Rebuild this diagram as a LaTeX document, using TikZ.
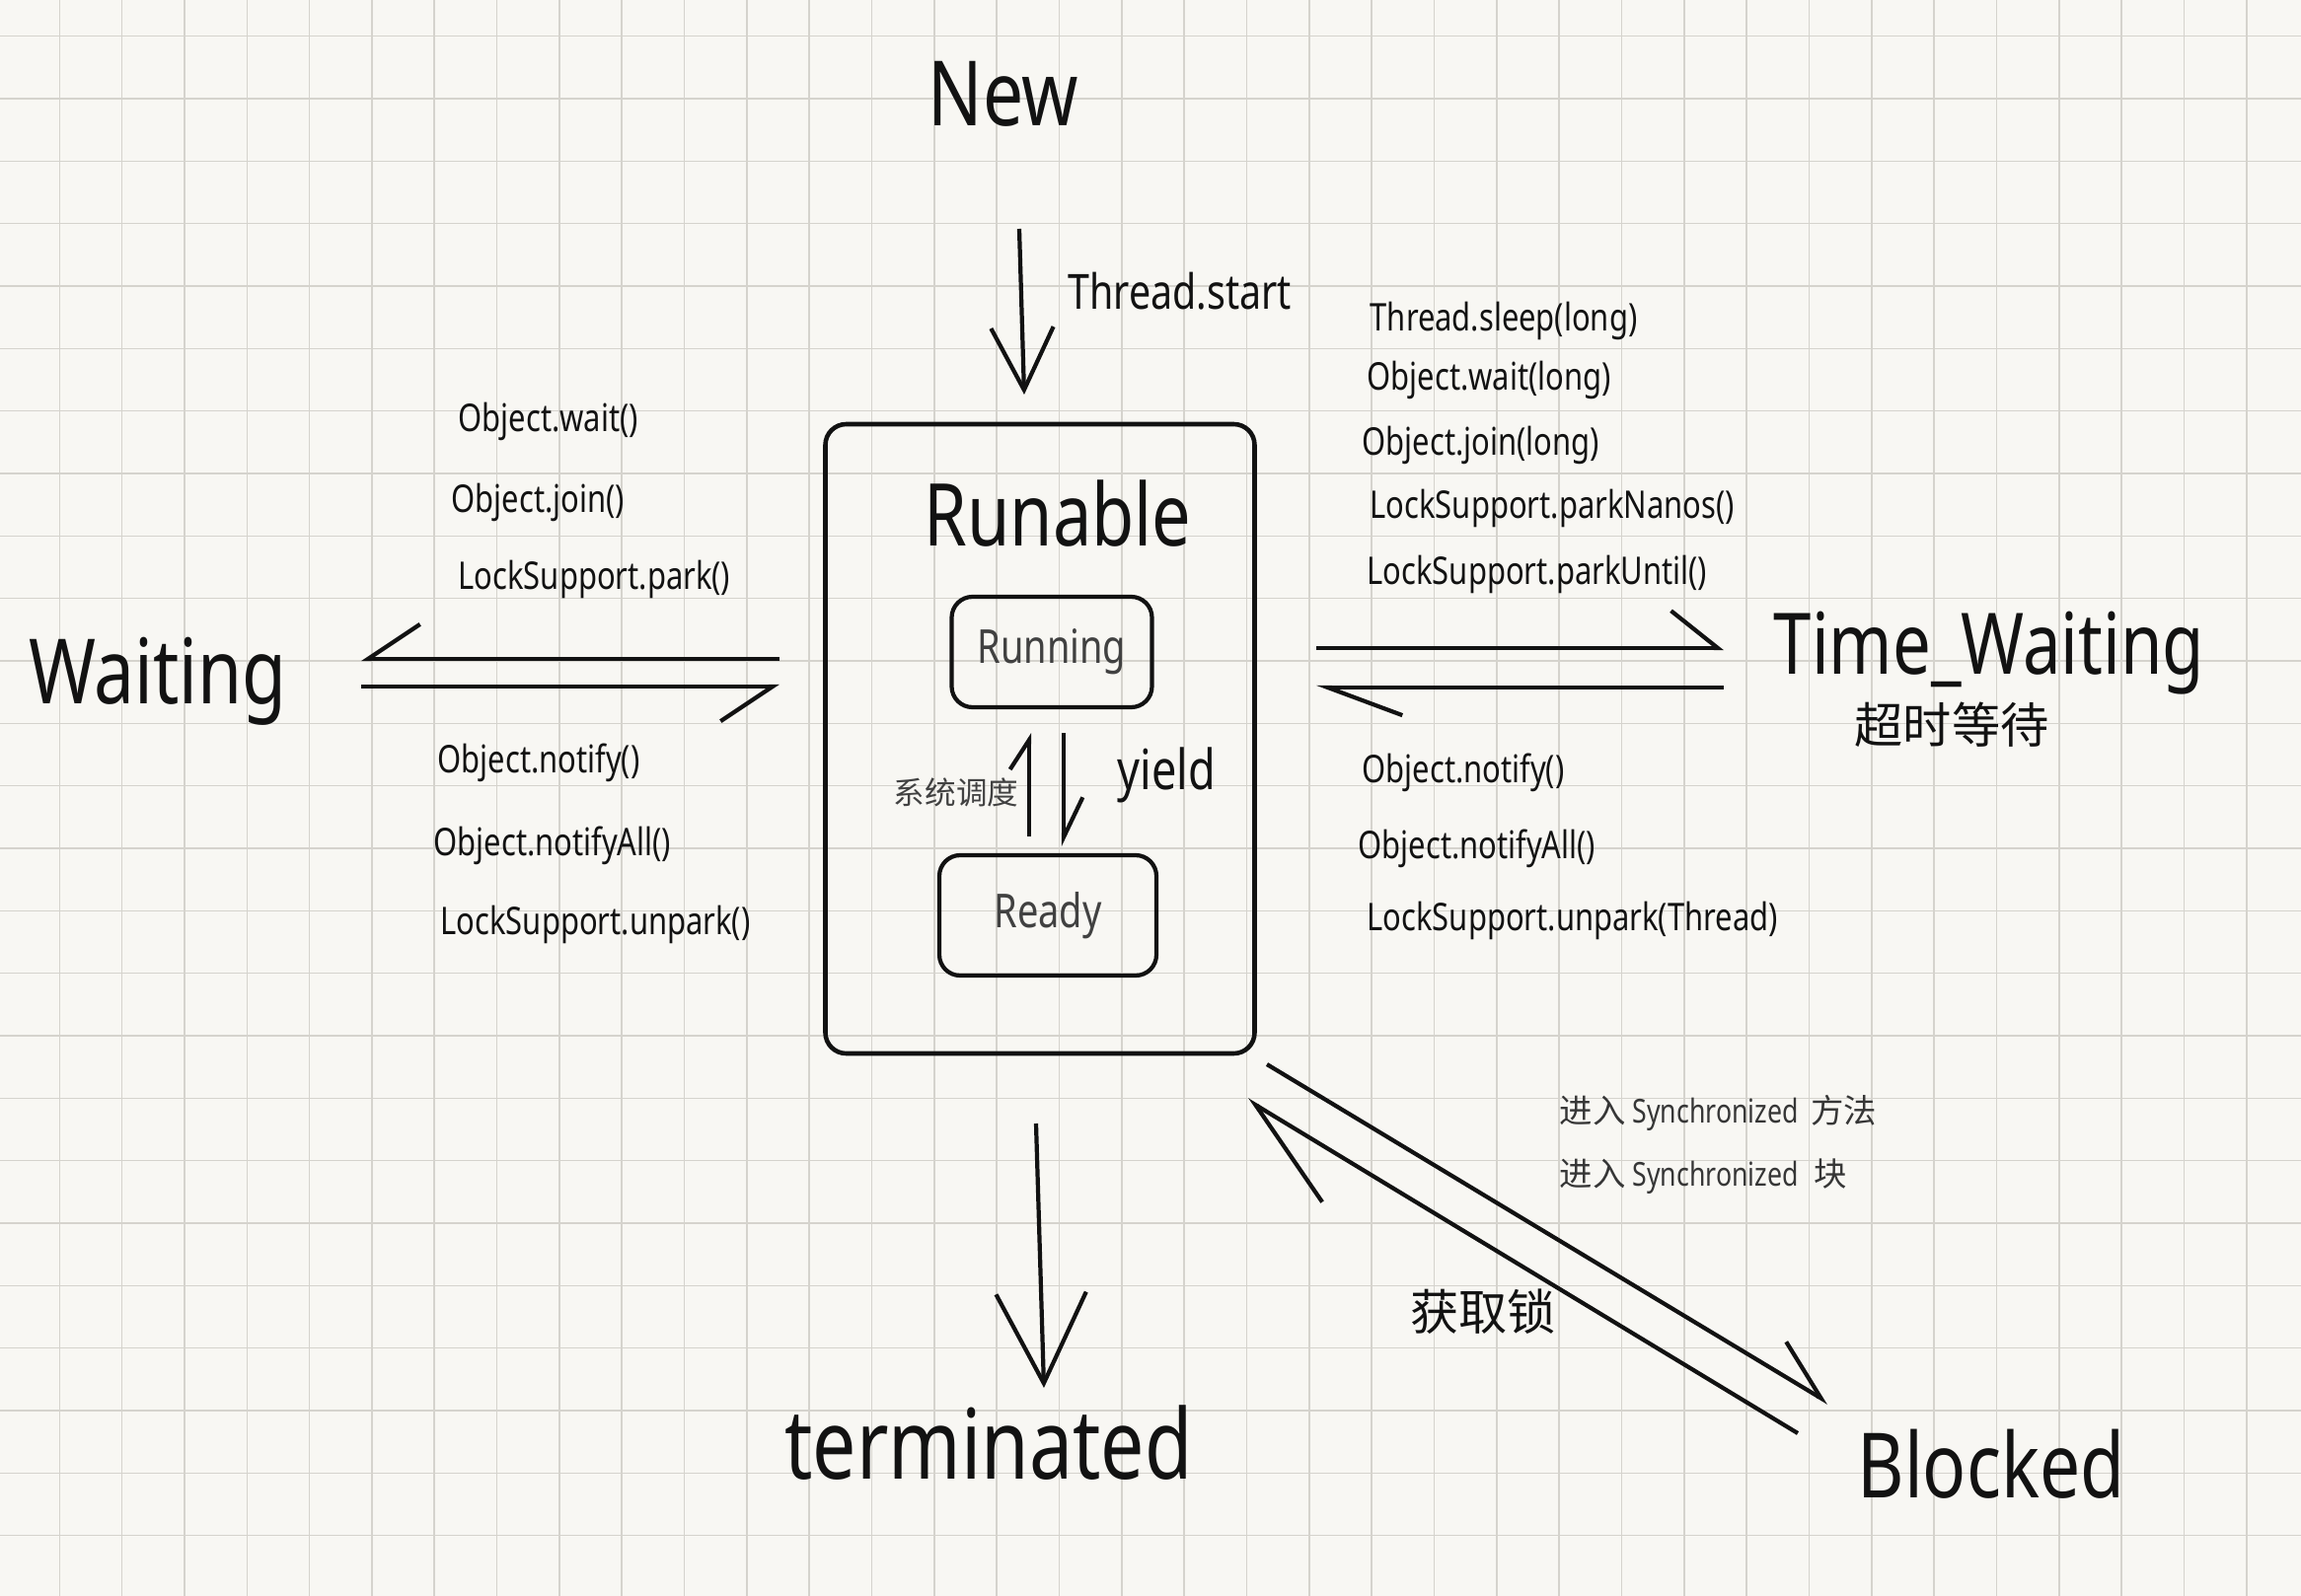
\documentclass[tikz,border=0pt]{standalone}
\usepackage{fontspec}
\setmainfont[FakeStretch=0.8]{Noto Sans}
\newfontfamily\cjk{Noto Sans CJK SC}
\usetikzlibrary{arrows.meta}
\definecolor{paper}{RGB}{248,247,243}
\definecolor{gridgray}{RGB}{213,211,205}
\definecolor{ink}{RGB}{18,18,18}
\tikzset{
  gridline/.style={gridgray,line width=0.45pt},
  statelbl/.style={font=\fontsize{26}{30}\selectfont,text=ink,inner sep=0pt,anchor=base},
  methlbl/.style={font=\fontsize{11}{14}\selectfont,text=ink,inner sep=0pt,anchor=west},
  synclbl/.style={font=\fontsize{9.5}{12}\selectfont,text=ink!85,inner sep=0pt,anchor=west},
  cjklbl/.style={font=\cjk\fontsize{14}{16}\selectfont,text=ink,inner sep=0pt},
  outerbox/.style={draw=ink,line width=1.3pt,rounded corners=6pt,
    minimum width=43.5mm,minimum height=63.8mm},
  innerbox/.style={draw=ink,line width=1.2pt,rounded corners=6pt,
    font=\fontsize{13.5}{16}\selectfont,text=ink!80},
  trans/.style={ink,line width=1.2pt,-{Straight Barb[#1]}},
  trans/.default={length=18pt,width=18pt},
  hook/.style={ink,line width=1.2pt,-{Straight Barb[harpoon,#1]}},
  hook/.default={length=15pt,width=20pt},
}
\begin{document}
\begin{tikzpicture}[x=0.1mm,y=-0.1mm]
  \fill[paper] (0,0) rectangle (2332,1618);
  \useasboundingbox (0,0) rectangle (2332,1618);
  \foreach \i in {0,...,35}
    \draw[gridline] ({60.3+63.33*\i},0) -- ({60.3+63.33*\i},1618);
  \foreach \j in {0,...,24}
    \draw[gridline] (0,{36.7+63.33*\j}) -- (2332,{36.7+63.33*\j});

  % states
  \node[statelbl] (new) at (1017,128) {New};
  \node[outerbox] (runable) at (1054,749) {};
  \node[statelbl,font=\fontsize{25}{30}\selectfont] (runtitle) at (1072,553) {Runable};
  \node[innerbox,minimum width=20.3mm,minimum height=11.2mm] (running) at (1066,661) {Running};
  \node[innerbox,minimum width=22mm,minimum height=12.2mm] (ready) at (1062,928) {Ready};
  \node[statelbl] (waiting) at (160,713) {Waiting};
  \node[statelbl,font=\fontsize{24.5}{30}\selectfont] (timewait) at (2016,683) {Time\_Waiting};
  \node[cjklbl] (timewaitcn) at (1978,735) {超时等待};
  \node[statelbl,font=\fontsize{28}{32}\selectfont] (term) at (1002,1499) {terminated};
  \node[statelbl] (blocked) at (2018,1518) {Blocked};

  % arrow ends
  \coordinate (ns) at (1033,232);  \coordinate (ne) at (1038,400);
  \coordinate (ts) at (1050,1139); \coordinate (te) at (1058,1407);
  \coordinate (ru) at (1043,848);  \coordinate (rv) at (1043,743);
  \coordinate (yu) at (1078,743);  \coordinate (yv) at (1078,858);
  \coordinate (wa) at (790,668);   \coordinate (wb) at (366,668);
  \coordinate (wc) at (366,696);   \coordinate (wd) at (790,696);
  \coordinate (ta) at (1334,657);  \coordinate (tb) at (1747,657);
  \coordinate (tc) at (1747,697);  \coordinate (td) at (1334,697);
  \coordinate (ba) at (1284,1079); \coordinate (bb) at (1853,1422);
  \coordinate (bc) at (1822,1453); \coordinate (bd) at (1264,1115);

  \draw[trans] (ns) -- (ne);
  \draw[trans={length=26pt,width=26pt}] (ts) -- (te);
  \draw[hook={length=8.5pt,width=11pt}] (ru) -- (rv);
  \draw[hook={length=11.5pt,width=11pt}] (yu) -- (yv);
  \draw[hook={swap,length=15pt,width=20pt}] (wa) -- (wb);
  \draw[hook={swap,length=15pt,width=20pt}] (wc) -- (wd);
  \draw[hook={length=13.5pt,width=21.5pt}] (ta) -- (tb);
  \draw[hook={length=21.5pt,width=16pt}] (tc) -- (td);
  \draw[hook={length=17pt,width=17.5pt}] (ba) -- (bb);
  \draw[hook={length=31pt,width=28pt}] (bc) -- (bd);

  % labels
  \node[methlbl,font=\fontsize{14}{18}\selectfont] (startlbl) at (1082,295) {Thread.start};
  \node[font=\fontsize{16}{18}\selectfont,text=ink,inner sep=0pt,anchor=base west] (yieldlbl) at (1132,800) {yield};
  \node[font=\cjk\fontsize{9}{11}\selectfont,text=ink!80,inner sep=0pt,anchor=east] (schedlbl) at (1033,803) {系统调度};

  \node[methlbl] (w1) at (464,427) {Object.wait()};
  \node[methlbl] (w2) at (457,509) {Object.join()};
  \node[methlbl] (w3) at (464,587) {LockSupport.park()};
  \node[methlbl] (w4) at (443,773) {Object.notify()};
  \node[methlbl] (w5) at (439,857) {Object.notifyAll()};
  \node[methlbl] (w6) at (446,937) {LockSupport.unpark()};

  \node[methlbl] (t1) at (1388,325) {Thread.sleep(long)};
  \node[methlbl] (t2) at (1385,385) {Object.wait(long)};
  \node[methlbl] (t3) at (1380,451) {Object.join(long)};
  \node[methlbl] (t4) at (1388,515) {LockSupport.parkNanos()};
  \node[methlbl] (t5) at (1385,582) {LockSupport.parkUntil()};
  \node[methlbl] (t6) at (1380,783) {Object.notify()};
  \node[methlbl] (t7) at (1376,860) {Object.notifyAll()};
  \node[methlbl] (t8) at (1385,933) {LockSupport.unpark(Thread)};

  \node[synclbl] (s1) at (1580,1128) {{\cjk 进入} Synchronized \,{\cjk 方法}};
  \node[synclbl] (s2) at (1580,1193) {{\cjk 进入} Synchronized \;{\cjk 块}};
  \node[cjklbl] (locklbl) at (1503,1330) {获取锁};
\end{tikzpicture}
\end{document}
